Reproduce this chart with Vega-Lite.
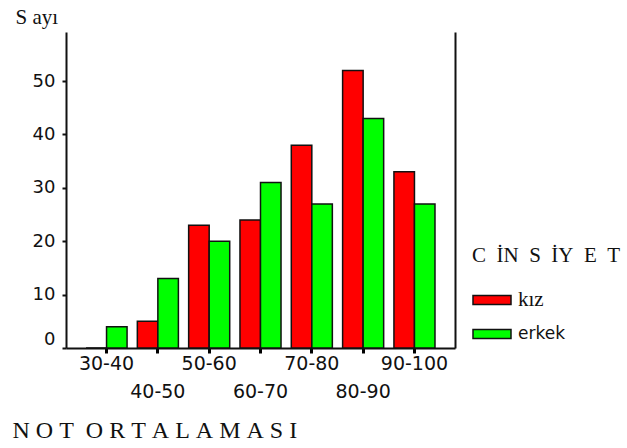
{
  "$schema": "https://vega.github.io/schema/vega-lite/v6.json",
  "width": 389,
  "height": 316,
  "autosize": {"type": "none"},
  "padding": {"left": 66, "top": 32, "right": 172, "bottom": 100},
  "background": "white",
  "config": {
    "view": {"stroke": null}
  },
  "data": {"values": [
    {"not": "30-40", "cinsiyet": "kız", "sayi": 0},
    {"not": "30-40", "cinsiyet": "erkek", "sayi": 4},
    {"not": "40-50", "cinsiyet": "kız", "sayi": 5},
    {"not": "40-50", "cinsiyet": "erkek", "sayi": 13},
    {"not": "50-60", "cinsiyet": "kız", "sayi": 23},
    {"not": "50-60", "cinsiyet": "erkek", "sayi": 20},
    {"not": "60-70", "cinsiyet": "kız", "sayi": 24},
    {"not": "60-70", "cinsiyet": "erkek", "sayi": 31},
    {"not": "70-80", "cinsiyet": "kız", "sayi": 38},
    {"not": "70-80", "cinsiyet": "erkek", "sayi": 27},
    {"not": "80-90", "cinsiyet": "kız", "sayi": 52},
    {"not": "80-90", "cinsiyet": "erkek", "sayi": 43},
    {"not": "90-100", "cinsiyet": "kız", "sayi": 33},
    {"not": "90-100", "cinsiyet": "erkek", "sayi": 27}
  ]},
  "layer": [
    {
      "mark": {"type": "bar", "stroke": "#111111", "strokeWidth": 1.5},
      "encoding": {
        "x": {
          "field": "not", "type": "nominal", "sort": null,
          "scale": {"paddingInner": 0.2, "paddingOuter": 0.39},
          "axis": {
            "title": "N\u2005O\u2005T\u2002O\u2005R\u2005T\u2005A\u2005L\u2005A\u2005M\u2005A\u2005S\u2005I",
            "titleFont": "Liberation Serif", "titleFontSize": 24, "titleFontWeight": "normal",
            "titleColor": "#111111",
            "titleAnchor": "start", "titleAlign": "left", "titleBaseline": "top",
            "titleX": -54, "titleY": 70,
            "labelAngle": 0, "labelFont": "DejaVu Sans", "labelFontSize": 19, "labelColor": "#111111",
            "labelPadding": 1, "labelOverlap": false, "labelLineHeight": 28,
            "labelExpr": "indexof(['40-50','60-70','80-90'], datum.value) >= 0 ? ['', datum.label] : datum.label",
            "ticks": true, "tickBand": "center", "tickExtra": false,
            "tickSize": 5, "tickWidth": 3, "tickColor": "#000000", "tickOpacity": 1,
            "domainColor": "#111111", "domainWidth": 2
          }
        },
        "xOffset": {"field": "cinsiyet", "type": "nominal", "sort": ["kız", "erkek"], "scale": {"paddingInner": 0, "paddingOuter": 0}},
        "y": {
          "field": "sayi", "type": "quantitative",
          "scale": {"domain": [0, 59.2], "nice": false},
          "axis": {
            "title": "S ayı",
            "titleFont": "Liberation Serif", "titleFontSize": 21, "titleFontWeight": "normal",
            "titleColor": "#111111",
            "titleAngle": 0, "titleAlign": "left", "titleBaseline": "top",
            "titleX": -51, "titleY": -26,
            "values": [0, 10, 20, 30, 40, 50],
            "grid": false, "labelFlush": true,
            "labelFont": "DejaVu Sans", "labelFontSize": 18, "labelColor": "#111111", "labelPadding": 7,
            "tickSize": 4, "tickWidth": 2, "tickColor": "#111111",
            "domainColor": "#111111", "domainWidth": 2
          }
        },
        "color": {
          "field": "cinsiyet", "type": "nominal",
          "scale": {"domain": ["kız", "erkek"], "range": ["#ff0000", "#00ff00"]},
          "legend": {
            "title": "C\u2002İN\u2002S\u2002İY\u2002E\u2002T",
            "orient": "none", "legendX": 406, "legendY": 213,
            "padding": 0,
            "titleFont": "Liberation Serif", "titleFontSize": 21, "titleFontWeight": "normal", "titleColor": "#111111",
            "titlePadding": 14,
            "symbolType": "M-1,-0.237H1V0.237H-1Z", "symbolSize": 1444,
            "symbolStrokeColor": "#111111", "symbolStrokeWidth": 1.5, "symbolOpacity": 1,
            "labelFont": "DejaVu Sans", "labelFontSize": 17, "labelColor": "#111111", "labelOffset": 6,
            "rowPadding": 4,
            "encode": {"labels": {"update": {
              "font": {"signal": "datum.label == 'kız' ? 'Liberation Serif' : 'DejaVu Sans'"},
              "fontSize": {"signal": "datum.label == 'kız' ? 21 : 17"}
            }}}
          }
        }
      }
    },
    {
      "mark": {"type": "bar", "opacity": 0},
      "encoding": {
        "x": {"field": "not", "type": "nominal", "sort": null},
        "y": {
          "field": "sayi", "type": "quantitative",
          "axis": {"orient": "right", "title": null, "labels": false, "ticks": false, "grid": false, "domainColor": "#111111", "domainWidth": 2}
        }
      }
    }
  ],
  "resolve": {"axis": {"y": "independent"}}
}
